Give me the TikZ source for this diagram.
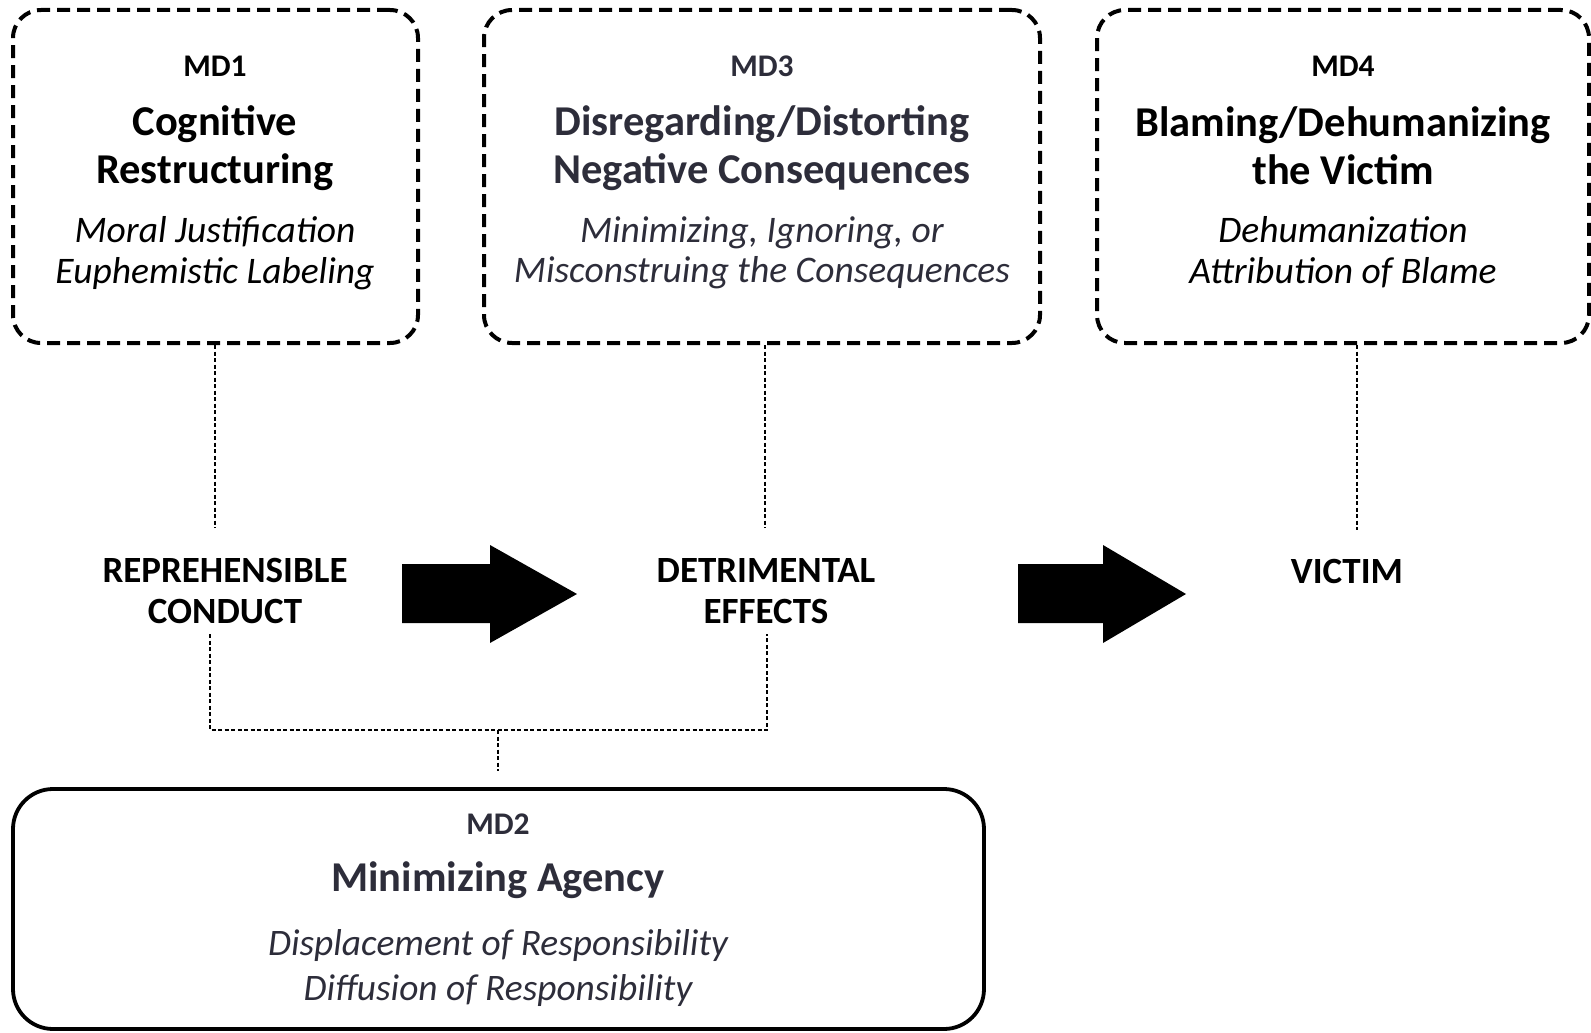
\documentclass[tikz,border=0pt]{standalone}
\usepackage{fontspec}
\setmainfont{Carlito}
\usepackage{xcolor}
\definecolor{inkgray}{RGB}{45,45,58}

\begin{document}
\begin{tikzpicture}[x=1pt,y=-1pt,
    mdbox/.style={draw,line width=4pt,dash pattern=on 13pt off 7pt,rounded corners=28pt,inner sep=0pt},
    agbox/.style={draw,line width=3.8pt,rounded corners=40pt,inner sep=0pt},
    tag/.style={font=\fontsize{31.5}{31.5}\selectfont\bfseries},
    head/.style={align=center,font=\fontsize{42.5}{48}\selectfont\bfseries},
    sub/.style={align=center,font=\fontsize{37.5}{40.5}\selectfont\itshape},
    stage/.style={align=center,font=\fontsize{37}{41}\selectfont\bfseries},
    link/.style={line width=1.1pt,dash pattern=on 4pt off 2.5pt}]
            \useasboundingbox (0,0) rectangle (1591,1033);

            % mechanism boxes
            \node (md1) at (215.5,176.5) [mdbox,minimum width=405,minimum height=333] {};
            \node (md3) at (762,176.5) [mdbox,minimum width=556,minimum height=333] {};
            \node (md4) at (1343,176.5) [mdbox,minimum width=492,minimum height=333] {};
            \node (md2) at (498.5,909) [agbox,minimum width=971,minimum height=240] {};

            \node (md1tag) at (215,66) [tag] {MD1};
            \node (md1head) at (215,148) [head] {Cognitive\\Restructuring};
            \node (md1sub) at (215,253) [sub] {Moral Justification\\Euphemistic Labeling};

            \node (md3tag) at (762,66) [tag,text=inkgray] {MD3};
            \node (md3head) at (762,148) [head,text=inkgray] {Disregarding/Distorting\\Negative Consequences};
            \node (md3sub) at (762,253) [sub,text=inkgray] {Minimizing, Ignoring, or\\Misconstruing the Consequences};

            \node (md4tag) at (1343,66) [tag] {MD4};
            \node (md4head) at (1343,146) [head] {Blaming/Dehumanizing\\the Victim};
            \node (md4sub) at (1343,252) [sub] {Dehumanization\\Attribution of Blame};

            \node (md2tag) at (498,824) [tag,text=inkgray] {MD2};
            \node (md2head) at (498,880) [head,text=inkgray] {Minimizing Agency};
            \node (md2sub) at (498,968) [sub,text=inkgray,font=\fontsize{37.4}{45.5}\selectfont\itshape] {Displacement of Responsibility\\Diffusion of Responsibility};

            % stages
            \node (conduct) at (225,591) [stage] {REPREHENSIBLE\\CONDUCT};
            \node (effects) at (766,591) [stage] {DETRIMENTAL\\EFFECTS};
            \node (victim) at (1347,571) [stage] {VICTIM};

            \fill (402,564) -- (490,564) -- (490,545) -- (577,594) -- (490,643) -- (490,623) -- (402,623) -- cycle;
            \fill (1018,564) -- (1103,564) -- (1103,545) -- (1186,594) -- (1103,643) -- (1103,623) -- (1018,623) -- cycle;

            % dotted links
            \coordinate (c1) at (215,528);
            \coordinate (c3) at (765,528);
            \coordinate (c4) at (1357,530);
            \coordinate (b1) at (210,634);
            \coordinate (b2) at (767,634);
            \coordinate (bl) at (210,730);
            \coordinate (br) at (767,730);
            \coordinate (bm) at (498,730);
            \coordinate (bs) at (498,771);
            \draw[link] (md1.south -| c1) -- (c1);
            \draw[link] (md3.south -| c3) -- (c3);
            \draw[link] (md4.south -| c4) -- (c4);
            \draw[link] (b1) -- (bl) -- (br) -- (b2);
            \draw[link] (bm) -- (bs);
        \end{tikzpicture}
\end{document}
